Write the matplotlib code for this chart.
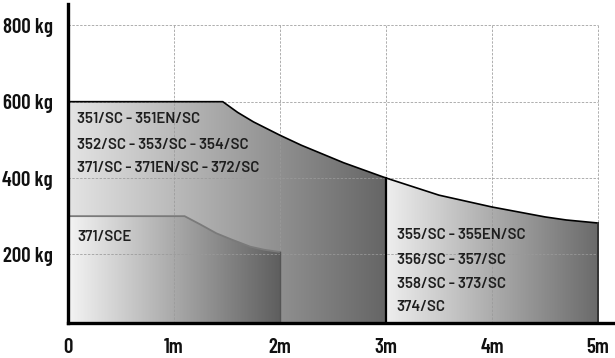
#!/usr/bin/env python3
"""Load chart: capacity (kg) vs. reach (m) for the SC range."""

import matplotlib

matplotlib.use("Agg")
import matplotlib.pyplot as plt
import numpy as np
from matplotlib.colors import LinearSegmentedColormap
from matplotlib.patches import Polygon

# curves (reach in m, load in kg)
main_x = [0.0, 1.46, 1.6, 1.75, 2.0, 2.2, 2.6, 3.0]
main_kg = [600, 600, 572, 547, 512, 486, 440, 400]

long_x = [3.0, 3.5, 4.0, 4.5, 4.7, 5.0]
long_kg = [400, 355, 324, 298, 290, 282]

sce_x = [0.0, 1.1, 1.25, 1.4, 1.55, 1.72, 1.85, 2.0]
sce_kg = [300, 300, 278, 255, 238, 220, 212, 206]

main_labels = ["351/SC - 351EN/SC", "352/SC - 353/SC - 354/SC", "371/SC - 371EN/SC - 372/SC"]
main_label_kg = [554, 486, 426]
sce_labels = ["371/SCE"]
sce_label_kg = [245]
long_labels = ["355/SC - 355EN/SC", "356/SC - 357/SC", "358/SC - 373/SC", "374/SC"]
long_label_kg = [250, 185, 122, 62]

y_ticks = [200, 400, 600, 800]
y_ticklabels = ["200 kg", "400 kg", "600 kg", "800 kg"]
x_ticks = [0, 1, 2, 3, 4, 5]
x_ticklabels = ["0", "1m", "2m", "3m", "4m", "5m"]

TICK_FONT = ["Barlow Condensed", "DejaVu Sans"]
LABEL_FONT = ["Barlow", "DejaVu Sans"]


def gradient_fill(ax, xs, ys, x0, x1, c0, c1, zorder):
    verts = [(x0, 0)] + list(zip(xs, ys)) + [(x1, 0)]
    patch = Polygon(verts, closed=True, facecolor="none", edgecolor="none")
    ax.add_patch(patch)
    cmap = LinearSegmentedColormap.from_list("g", [c0, c1])
    grad = np.linspace(0, 1, 256).reshape(1, -1)
    im = ax.imshow(grad, cmap=cmap, aspect="auto", extent=(x0, x1, 0, max(ys)),
                   origin="lower", zorder=zorder, interpolation="bilinear")
    im.set_clip_path(patch)


fig = plt.figure(figsize=(6.15, 3.58), dpi=100)
ax = fig.add_axes([68 / 615, 35 / 358, 547 / 615, 319 / 358])

gradient_fill(ax, main_x, main_kg, 0, 3, "#e4e4e4", "#656565", 1)
gradient_fill(ax, long_x, long_kg, 3, 5, "#eeeeee", "#6a6a6a", 1)
gradient_fill(ax, sce_x, sce_kg, 0, 2, "#f4f4f4", "#5e5e5e", 2)

# outlines
ax.plot(main_x, main_kg, color="black", lw=1.2, zorder=4)
ax.plot([3, 3], [0, 400], color="black", lw=1.6, zorder=4)
ax.plot(long_x, long_kg, color="black", lw=1.2, zorder=4)
ax.plot([5, 5], [0, long_kg[-1]], color="#333333", lw=1.4, zorder=4)
ax.plot(sce_x, sce_kg, color="#7a7a7a", lw=1.3, zorder=4)
ax.plot([2, 2], [0, sce_kg[-1]], color="#555555", lw=1.0, zorder=4)

# dashed grid, drawn over the fills
for y in y_ticks:
    ax.plot([0, 5], [y, y], color="#9a9a9a", lw=0.7, ls=(0, (2.5, 1.5)), alpha=0.8, zorder=3)
for x in x_ticks[1:]:
    ax.plot([x, x], [0, 800], color="#9a9a9a", lw=0.7, ls=(0, (2.5, 1.5)), alpha=0.8, zorder=3)

text_kw = dict(family=LABEL_FONT, weight=600, fontsize=10.8, color="#1e1e1e",
               va="center", ha="left", zorder=5)
for lbl, kg in zip(main_labels, main_label_kg):
    ax.text(0.085, kg, lbl, **text_kw)
for lbl, kg in zip(sce_labels, sce_label_kg):
    ax.text(0.085, kg, lbl, **text_kw)
for lbl, kg in zip(long_labels, long_label_kg):
    ax.text(3.1, kg, lbl, **text_kw)

ax.set_xlim(0, 5.16)
ax.set_ylim(20, 856)

ax.set_yticks(y_ticks)
ax.set_yticklabels(y_ticklabels)
ax.set_xticks(x_ticks)
ax.set_xticklabels(x_ticklabels)
ax.tick_params(length=0)
ax.tick_params(axis="y", pad=11)
ax.tick_params(axis="x", pad=11)
for lab in ax.get_xticklabels() + ax.get_yticklabels():
    lab.set_family(TICK_FONT)
    lab.set_weight(600)
    lab.set_fontsize(15)
    lab.set_color("#111111")

for side in ("top", "right"):
    ax.spines[side].set_visible(False)
for side in ("left", "bottom"):
    ax.spines[side].set_linewidth(2.4)
    ax.spines[side].set_color("black")
    ax.spines[side].set_zorder(6)

fig.savefig("out.png", dpi=100)
plt.close(fig)
